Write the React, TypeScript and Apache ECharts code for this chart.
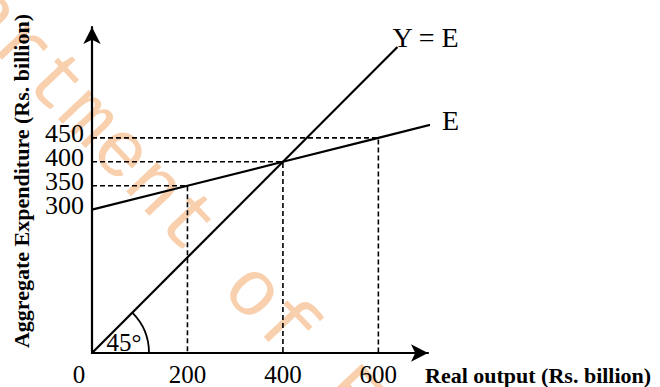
import React, { useEffect, useRef } from "react";
import * as echarts from "echarts";

// Data
const xTickValues = [0, 200, 400, 600];
const yTickLabels = [300, 350, 400, 450];
const yeX = [0, 640];
const yeY = [0, 640];
const eX = [0, 200, 400, 600, 735];
const eY = [300, 350, 400, 450, 484];
const guideX = [200, 400, 600];
const guideY = [350, 400, 450];
const angleLabel = "45°";
const xTitle = "Real output (Rs. billion)";
const yTitle = "Aggregate Expenditure (Rs. billion)";
const watermark = "Department of Economics";

const SERIF = "'Liberation Serif', 'DejaVu Serif', serif";

export default function App() {
  const ref = useRef<HTMLDivElement>(null);
  useEffect(() => {
    if (!ref.current) return;
    const chart = echarts.init(ref.current, null, { renderer: "svg" });

    const guideSeries = guideX.map((gx, i) => ({
      type: "line",
      data: [
        [0, guideY[i]],
        [gx, guideY[i]],
        [gx, 0],
      ],
      symbol: "none",
      silent: true,
      clip: false,
      z: 1,
      lineStyle: { color: "#000", width: 1.6, type: [5, 3] },
    }));

    const option: any = {
      animation: false,
      backgroundColor: "#fff",
      grid: { left: 92, top: 27, width: 336, height: 328 },
      xAxis: {
        type: "value",
        min: 0,
        max: 704,
        interval: 200,
        axisLine: {
          show: true,
          symbol: ["none", "arrow"],
          symbolSize: [13, 17],
          lineStyle: { color: "#000", width: 2.2 },
        },
        axisTick: { show: false },
        splitLine: { show: false },
        axisLabel: {
          fontFamily: SERIF,
          fontSize: 25,
          color: "#000",
          margin: 9,
          showMaxLabel: false,
          formatter: (v: number) =>
            xTickValues.indexOf(v) === -1 ? "" : v === 0 ? "{z|0}" : String(v),
          rich: {
            z: { fontFamily: SERIF, fontSize: 25, color: "#000", padding: [0, 26, 0, 0] },
          },
        },
      },
      yAxis: {
        type: "value",
        min: 0,
        max: 682,
        interval: 50,
        axisLine: {
          show: true,
          symbol: ["none", "arrow"],
          symbolSize: [13, 17],
          lineStyle: { color: "#000", width: 2.2 },
        },
        axisTick: { show: false },
        splitLine: { show: false },
        axisLabel: {
          fontFamily: SERIF,
          fontSize: 26,
          color: "#000",
          margin: 8,
          lineHeight: 8,
          verticalAlign: "bottom",
          showMaxLabel: false,
          formatter: (v: number) => (yTickLabels.indexOf(v) === -1 ? "" : String(v)),
        },
        name: yTitle,
        nameLocation: "middle",
        nameGap: 60,
        nameTextStyle: {
          fontFamily: SERIF,
          fontWeight: "bold",
          fontSize: 22,
          color: "#000",
          padding: [0, 0, 0, 18],
        },
      },
      graphic: [
        {
          type: "text",
          z: -10,
          silent: true,
          x: -127,
          y: -108,
          rotation: (-46.6 * Math.PI) / 180,
          style: {
            text: watermark,
            fontFamily: "'Liberation Mono', 'DejaVu Sans Mono', monospace",
            fontSize: 80,
            fill: "#f9d0ae",
            align: "left",
            verticalAlign: "middle",
          },
        },
        {
          type: "text",
          z: 10,
          silent: true,
          left: 425,
          top: 364,
          style: {
            text: xTitle,
            fontFamily: SERIF,
            fontWeight: "bold",
            fontSize: 22,
            fill: "#000",
          },
        },
      ],
      series: [
        ...guideSeries,
        {
          type: "line",
          data: yeX.map((x, i) => [x, yeY[i]]),
          symbol: "none",
          clip: false,
          z: 3,
          lineStyle: { color: "#000", width: 2.2 },
          endLabel: {
            show: true,
            formatter: "Y = E",
            fontFamily: SERIF,
            fontSize: 28,
            color: "#000",
            distance: 0,
            offset: [-5, -10],
          },
        },
        {
          type: "line",
          data: eX.map((x, i) => [x, eY[i]]),
          symbol: "none",
          clip: false,
          z: 3,
          lineStyle: { color: "#000", width: 2.2 },
          endLabel: {
            show: true,
            formatter: "E",
            fontFamily: SERIF,
            fontSize: 28,
            color: "#000",
            distance: 0,
            offset: [12, -4],
          },
        },
        {
          type: "custom",
          data: [[0, 0]],
          z: 4,
          silent: true,
          renderItem: (params: any, api: any) => {
            const c = api.coord([api.value(0), api.value(1)]);
            return {
              type: "group",
              children: [
                {
                  type: "arc",
                  shape: {
                    cx: c[0],
                    cy: c[1],
                    r: 57,
                    startAngle: -Math.PI / 4,
                    endAngle: 0,
                    clockwise: true,
                  },
                  style: { stroke: "#000", lineWidth: 1.8, fill: null },
                },
                {
                  type: "text",
                  x: c[0] + 32,
                  y: c[1] - 11,
                  style: {
                    text: angleLabel,
                    fontFamily: SERIF,
                    fontSize: 25,
                    fill: "#000",
                    align: "center",
                    verticalAlign: "middle",
                  },
                },
              ],
            };
          },
        },
      ],
    };
    chart.setOption(option);
    return () => chart.dispose();
  }, []);
  return (
    <div
      ref={ref}
      style={{ position: "absolute", left: 0, top: 0, width: 660, height: 387 }}
    />
  );
}
